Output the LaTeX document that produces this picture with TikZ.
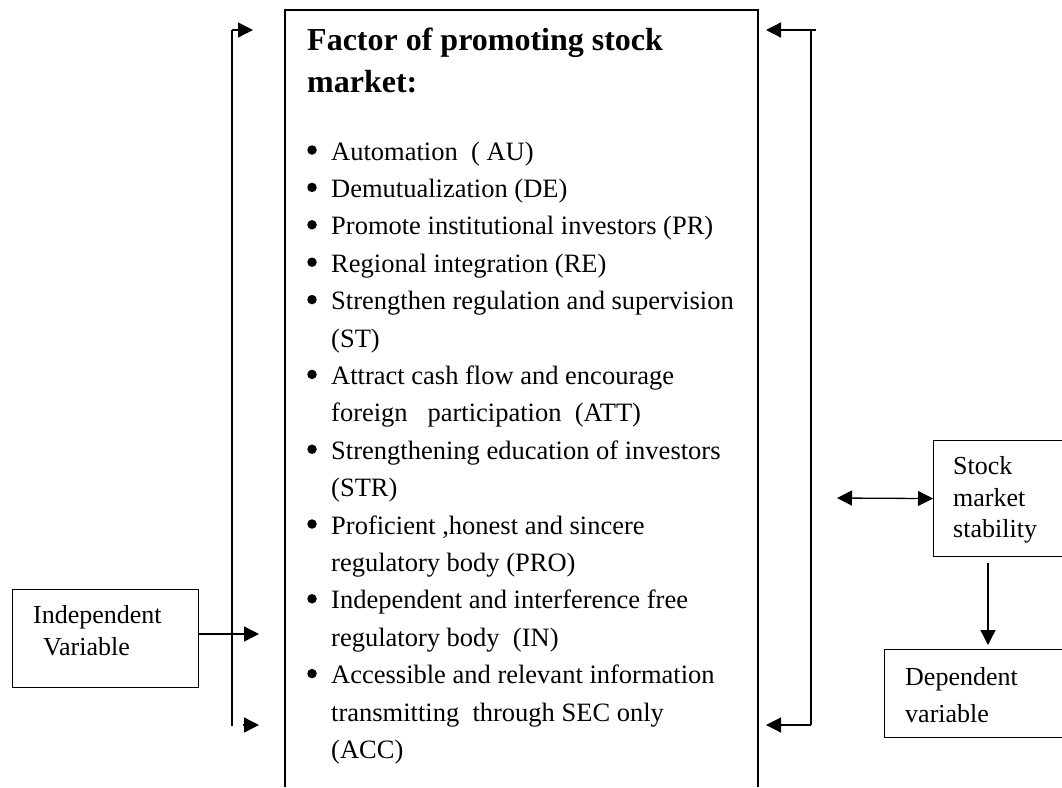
\documentclass[tikz,border=0pt]{standalone}
\usepackage{fontspec}
\setmainfont{Liberation Serif}
\usetikzlibrary{arrows.meta}
\begin{document}
\begin{tikzpicture}[x=1pt,y=-1pt,
  arr/.style={line width=1.3pt,-{Triangle[length=15pt,width=15pt]}},
  arrboth/.style={line width=1.3pt,{Triangle[length=15pt,width=15pt]}-{Triangle[length=15pt,width=15pt]}},
  bracket/.style={line width=1.3pt},
  boxline/.style={line width=1.1pt},
  frame/.style={draw,line width=1.1pt,inner sep=0pt,anchor=north west},
  body/.style={inner sep=0pt,anchor=base west,font=\fontsize{26.5}{30}\selectfont},
  dot/.style={circle,fill,inner sep=0pt,minimum size=9.5pt},
  small/.style={inner sep=0pt,anchor=base west,font=\fontsize{26}{30}\selectfont},
  ttl/.style={inner sep=0pt,anchor=base west,font=\fontsize{32}{36}\selectfont\bfseries}
]
\useasboundingbox (0,0) rectangle (1062,787);

% main box (open at bottom)
\draw[boxline] (285,787) -- (285,10) -- (758,10) -- (758,787);

% title
\node[ttl] (t1) at (307,50) {Factor of promoting stock};
\node[ttl] (t2) at (307,92) {market:};

% bullet items
\def\bx{312}
\def\tx{331}
\node[dot] (b1) at (\bx,150) {};
\node[body] (l1) at (\tx,160) {Automation \ ( AU)};
\node[dot] (b2) at (\bx,187.4) {};
\node[body] (l2) at (\tx,197.4) {Demutualization (DE)};
\node[dot] (b3) at (\bx,224.8) {};
\node[body] (l3) at (\tx,234.8) {Promote institutional investors (PR)};
\node[dot] (b4) at (\bx,262.2) {};
\node[body] (l4) at (\tx,272.2) {Regional integration (RE)};
\node[dot] (b5) at (\bx,299.6) {};
\node[body] (l5) at (\tx,309.6) {Strengthen regulation and supervision};
\node[body] (l6) at (\tx,347.0) {(ST)};
\node[dot] (b7) at (\bx,374.4) {};
\node[body] (l7) at (\tx,384.4) {Attract cash flow and encourage};
\node[body] (l8) at (\tx,421.8) {foreign \ \ participation \ (ATT)};
\node[dot] (b9) at (\bx,449.2) {};
\node[body] (l9) at (\tx,459.2) {Strengthening education of investors};
\node[body] (l10) at (\tx,496.6) {(STR)};
\node[dot] (b11) at (\bx,524.0) {};
\node[body] (l11) at (\tx,534.0) {Proficient ,honest and sincere};
\node[body] (l12) at (\tx,571.4) {regulatory body (PRO)};
\node[dot] (b13) at (\bx,598.8) {};
\node[body] (l13) at (\tx,608.8) {Independent and interference free};
\node[body] (l14) at (\tx,646.2) {regulatory body \ (IN)};
\node[dot] (b15) at (\bx,673.6) {};
\node[body] (l15) at (\tx,683.6) {Accessible and relevant information};
\node[body] (l16) at (\tx,721.0) {transmitting \ through SEC only};
\node[body] (l17) at (\tx,758.4) {(ACC)};

% left bracket
\coordinate (lt) at (232,30);
\coordinate (lb) at (232,726);
\coordinate (ltip) at (253,30);
\coordinate (lbs) at (243,725);
\coordinate (lbtip) at (259,725);
\draw[bracket] (lb) -- (lt);
\draw[arr] (lt) -- (ltip);
\draw[arr] (lbs) -- (lbtip);

% independent variable box
\node[frame,minimum width=186pt,minimum height=98pt] (indep) at (12,589) {};
\node[small] (it1) at (33,623) {Independent};
\node[small] (it2) at (43,655) {Variable};
\coordinate (inA) at (259,634);
\draw[arr] (indep.east |- inA) -- (inA);

% right bracket
\coordinate (rt) at (811,30);
\coordinate (rte) at (816,30);
\coordinate (rb) at (811,725);
\coordinate (rtip) at (766,30);
\coordinate (rbtip) at (766,725);
\draw[bracket] (rte) -- (rt) -- (rb);
\draw[arr] (rt) -- (rtip);
\draw[arr] (rb) -- (rbtip);

% stock market stability
\node[frame,minimum width=140pt,minimum height=116pt] (stock) at (933,440) {};
\node[small] (s1) at (953,474) {Stock};
\node[small] (s2) at (953,506) {market};
\node[small] (s3) at (953,537) {stability};
\coordinate (dA) at (837,498);
\draw[arrboth] (dA) -- (stock.west);

% dependent variable
\node[frame,minimum width=190pt,minimum height=88pt] (dep) at (884,649) {};
\node[small] (d1) at (905,685) {Dependent};
\node[small] (d2) at (905,722) {variable};
\coordinate (sx) at (988,0);
\draw[arr,shorten <=6pt,shorten >=4pt] (stock.south -| sx) -- (dep.north -| sx);
\end{tikzpicture}
\end{document}
